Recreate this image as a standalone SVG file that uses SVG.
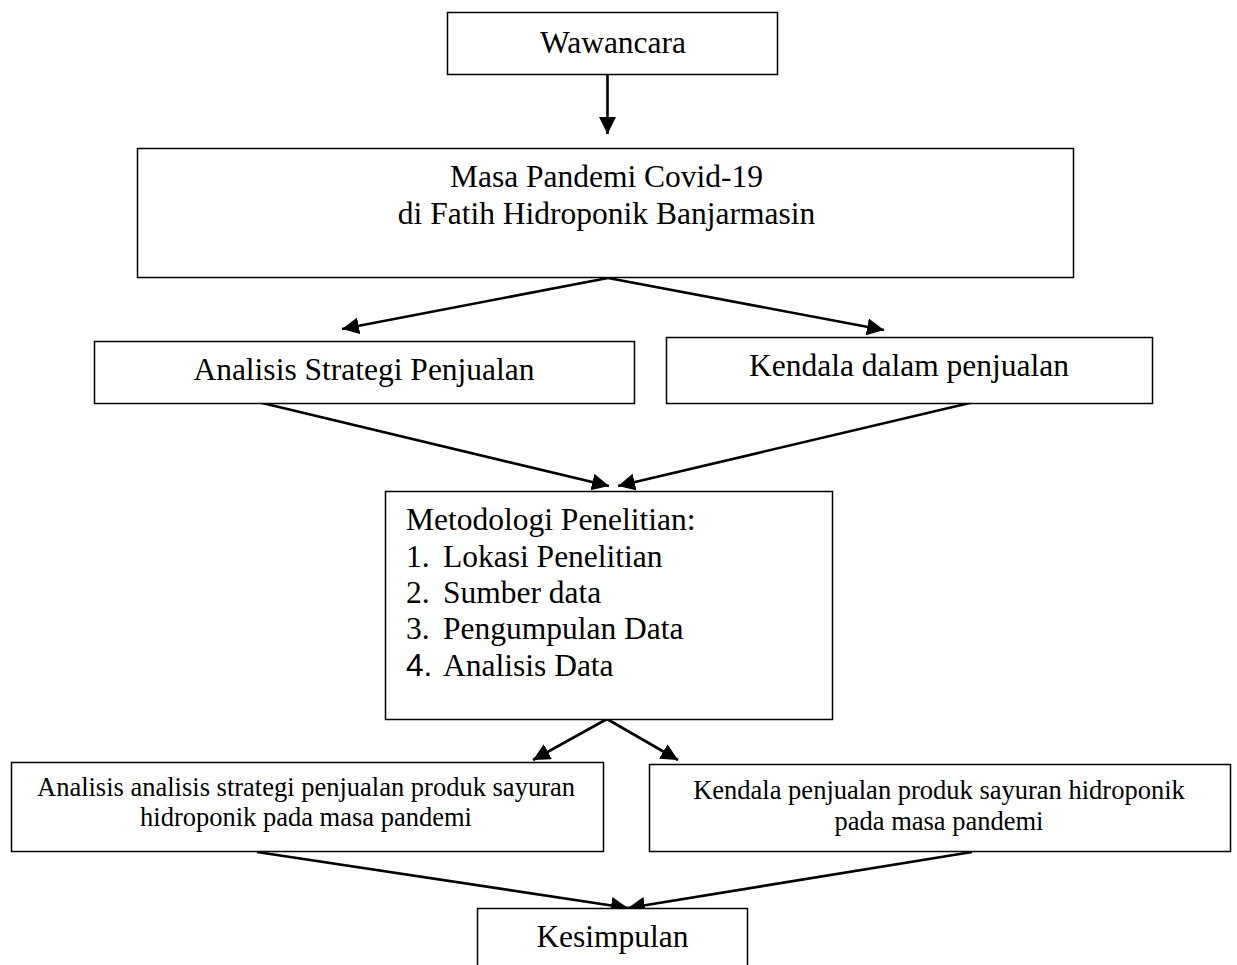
<svg xmlns="http://www.w3.org/2000/svg" width="1237" height="965" viewBox="0 0 1237 965">
<style>
.box{fill:#fff;stroke:#000;stroke-width:1.5}
.t{font-family:"Liberation Serif","Times New Roman",serif;font-size:31.5px;fill:#000}
.s{font-family:"Liberation Serif","Times New Roman",serif;font-size:26.5px;fill:#000}
.m{text-anchor:middle}
.sans{font-family:"Liberation Sans",Arial,sans-serif}
.c{stroke:#000;stroke-width:2.6;fill:none;marker-end:url(#ah)}
</style>
<defs>
<marker id="ah" markerUnits="userSpaceOnUse" markerWidth="20" markerHeight="18" refX="17" refY="8.5" orient="auto">
<path d="M0,0 L17,8.5 L0,17 z" fill="#000"/>
</marker>
</defs>
<rect width="1237" height="965" fill="#fff"/>
<g id="connectors">
<line class="c" x1="607.5" y1="75" x2="607.5" y2="134"/>
<line class="c" x1="608" y1="278" x2="342" y2="329"/>
<line class="c" x1="608" y1="278" x2="884" y2="330"/>
<line class="c" x1="258" y1="402" x2="609" y2="486"/>
<line class="c" x1="974" y1="402" x2="618" y2="486"/>
<line class="c" x1="607" y1="719" x2="533" y2="760"/>
<line class="c" x1="607" y1="719" x2="678" y2="760"/>
<line class="c" x1="257" y1="852" x2="628" y2="908"/>
<line class="c" x1="972" y1="852" x2="628" y2="908"/>
</g>
<g id="wawancara">
<rect class="box" x="447.5" y="12.5" width="330" height="62"/>
<text class="t m" x="613" y="53">Wawancara</text>
</g>
<g id="masa">
<rect class="box" x="137.5" y="148.5" width="936" height="129"/>
<text class="t m" x="606.5" y="187">Masa Pandemi Covid-19</text>
<text class="t m" x="606.5" y="224">di Fatih Hidroponik Banjarmasin</text>
</g>
<g id="analisis">
<rect class="box" x="94.5" y="341.5" width="540" height="62"/>
<text class="t m" x="364" y="380">Analisis Strategi Penjualan</text>
</g>
<g id="kendala">
<rect class="box" x="666.5" y="337.5" width="486" height="66"/>
<text class="t m" x="909" y="376">Kendala dalam penjualan</text>
</g>
<g id="metodologi">
<rect class="box" x="385.5" y="491.5" width="447" height="228"/>
<text class="t" x="406" y="530">Metodologi Penelitian:</text>
<text class="t" x="406" y="567">1.</text>
<text class="t" x="443" y="567">Lokasi Penelitian</text>
<text class="t" x="406" y="603">2.</text>
<text class="t" x="443" y="603">Sumber data</text>
<text class="t" x="406" y="639">3.</text>
<text class="t" x="443" y="639">Pengumpulan Data</text>
<text class="t sans" x="406" y="676">4.</text>
<text class="t" x="443" y="676">Analisis Data</text>
</g>
<g id="hasil-analisis">
<rect class="box" x="11.5" y="762.5" width="592" height="89"/>
<text class="s m" x="306" y="796">Analisis analisis strategi penjualan produk sayuran</text>
<text class="s m" x="306" y="826">hidroponik pada masa pandemi</text>
</g>
<g id="hasil-kendala">
<rect class="box" x="649.5" y="764.5" width="581" height="87"/>
<text class="s m" x="939" y="799">Kendala penjualan produk sayuran hidroponik</text>
<text class="s m" x="939" y="830">pada masa pandemi</text>
</g>
<g id="kesimpulan">
<rect class="box" x="477.5" y="908.5" width="270" height="70"/>
<text class="t m" x="612.5" y="947">Kesimpulan</text>
</g>
</svg>
